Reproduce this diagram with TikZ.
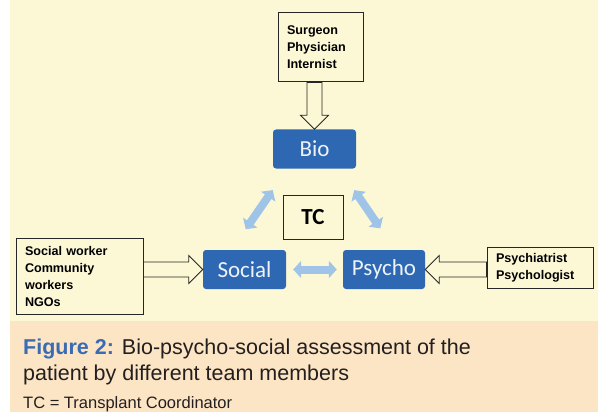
\documentclass[tikz,border=0pt]{standalone}
\usepackage{fontspec}
\setmainfont{Liberation Sans}
\newfontfamily\boxfont{Carlito}
\usetikzlibrary{calc, arrows.meta, positioning}
\definecolor{bgyellow}{HTML}{FCF8D6}
\definecolor{bgpeach}{HTML}{FCE5C4}
\definecolor{domblue}{HTML}{2E68B2}
\definecolor{linkblue}{HTML}{9FC4E8}
\definecolor{figblue}{HTML}{3A6CB4}
\definecolor{captext}{HTML}{231F20}

\begin{document}
\begin{tikzpicture}[x=1pt, y=-1pt,
team/.style={draw=black!85, line width=1pt, fill=bgyellow, align=left, inner xsep=9pt, inner ysep=0pt, font=\bfseries\fontsize{12.6}{17}\selectfont},
dombox/.style={fill=domblue, rounded corners=3pt, text=white!92!domblue, minimum width=83pt, minimum height=39pt, inner sep=0pt, font=\boxfont\fontsize{23}{27}\selectfont},
hollow/.style={draw=black!85, line width=0.8pt, to path={
 ($(\tikztostart)!7.5pt!90:(\tikztotarget)$) --
 ($(\tikztotarget)!14pt!(\tikztostart)!7.5pt!-90:(\tikztostart)$) --
 ($(\tikztotarget)!14pt!(\tikztostart)!14pt!-90:(\tikztostart)$) --
 (\tikztotarget) --
 ($(\tikztotarget)!14pt!(\tikztostart)!14pt!90:(\tikztostart)$) --
 ($(\tikztotarget)!14pt!(\tikztostart)!7.5pt!90:(\tikztostart)$) --
 ($(\tikztostart)!7.5pt!-90:(\tikztotarget)$) -- cycle}},
link/.style={draw=linkblue, line width=8pt, {Triangle[width=17pt,length=8pt]}-{Triangle[width=17pt,length=8pt]}},
caption/.style={anchor=base west, inner sep=0pt, text=captext}]
\useasboundingbox (0,0) rectangle (598,412);
\fill[bgyellow] (10,0) rectangle (598,321);
\fill[bgpeach] (10,321) rectangle (598,412);

\node[team, text width=67pt, minimum height=69pt] (surg) at (320.5,47.5) {Surgeon\\Physician\\Internist};
\node[team, text width=109pt, minimum height=76pt] (teamsoc) at (79.5,276) {Social worker\\Community\\workers\\NGOs};
\node[team, text width=88pt, minimum height=41pt] (teampsy) at (540,267.5) {Psychiatrist\\Psychologist};
\node[team, font=\boxfont\bfseries\fontsize{23}{27}\selectfont, minimum width=60pt, minimum height=44pt, inner sep=0pt] (tc) at (313,217) {TC};

\node[dombox] (bio) at (314.5,149) {Bio};
\node[dombox] (social) at (244.5,269.5) {Social};
\node[dombox, minimum width=82pt] (psycho) at (384,269.5) {Psycho};

\draw[hollow] (surg.south -| bio.north) to (bio.north);
\draw[hollow] (teamsoc.east |- social.west) to (social.west);
\draw[hollow] (teampsy.west |- psycho.east) to (psycho.east);

\draw[link, shorten <=7pt, shorten >=6pt] (social) -- (psycho);
\draw[link, shorten <=25pt, shorten >=26pt] ([xshift=-13pt]social.north) -- ([xshift=-27pt]bio.south);
\draw[link, shorten <=26pt, shorten >=26pt] ([xshift=25pt]bio.south) -- ([xshift=11pt]psycho.north);

\node[caption, font=\fontsize{21.5}{26}\selectfont] (cap1) at (23,354) {\textcolor{figblue}{\bfseries Figure 2:} Bio-psycho-social assessment of the};
\node[caption, font=\fontsize{21.5}{26}\selectfont] (cap2) at (23,380) {patient by different team members};
\node[caption, font=\fontsize{16.5}{20}\selectfont] (cap3) at (23,408) {TC = Transplant Coordinator};
\end{tikzpicture}
\end{document}
